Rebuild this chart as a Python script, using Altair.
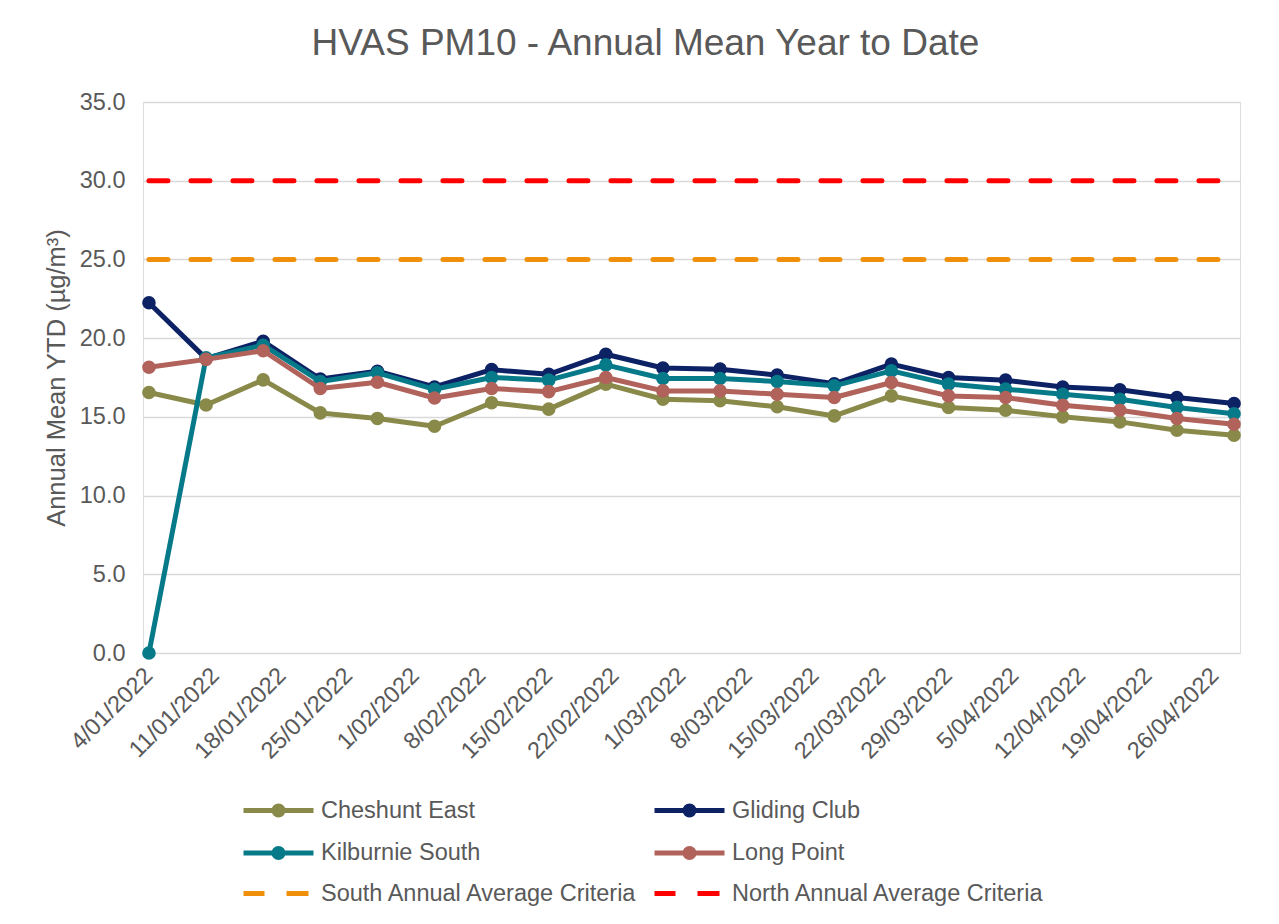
import altair as alt
import pandas as pd

FONT = "Liberation Sans"
TEXT = "#595959"

# sampling dates (one sample every 6 days, 4 Jan to 28 Apr 2022)
dates = [
    "2022-01-04T00:00", "2022-01-10T00:00", "2022-01-16T00:00", "2022-01-22T00:00",
    "2022-01-28T00:00", "2022-02-03T00:00", "2022-02-09T00:00", "2022-02-15T00:00",
    "2022-02-21T00:00", "2022-02-27T00:00", "2022-03-05T00:00", "2022-03-11T00:00",
    "2022-03-17T00:00", "2022-03-23T00:00", "2022-03-29T00:00", "2022-04-04T00:00",
    "2022-04-10T00:00", "2022-04-16T00:00", "2022-04-22T00:00", "2022-04-28T00:00",
]

cheshunt_east = [16.55, 15.75, 17.35, 15.25, 14.9, 14.4, 15.9, 15.49, 17.08, 16.12,
                 16.02, 15.64, 15.06, 16.33, 15.6, 15.42, 15.0, 14.68, 14.15, 13.83]
gliding_club = [22.25, 18.7, 19.8, 17.4, 17.9, 16.9, 18.0, 17.7, 18.98, 18.1,
                18.03, 17.65, 17.1, 18.35, 17.5, 17.33, 16.9, 16.72, 16.23, 15.85]
kilburnie_south = [0.0, 18.75, 19.55, 17.25, 17.8, 16.75, 17.5, 17.33, 18.3, 17.44,
                   17.44, 17.25, 16.97, 17.92, 17.08, 16.76, 16.44, 16.12, 15.6, 15.2]
long_point = [18.15, 18.65, 19.2, 16.8, 17.2, 16.2, 16.8, 16.6, 17.5, 16.65,
              16.65, 16.44, 16.23, 17.18, 16.33, 16.23, 15.74, 15.42, 14.9, 14.53]

south_criteria = 25.0
north_criteria = 30.0

# weekly tick dates (year, month, day)
tick_dates = [(2022, 1, 4), (2022, 1, 11), (2022, 1, 18), (2022, 1, 25), (2022, 2, 1),
              (2022, 2, 8), (2022, 2, 15), (2022, 2, 22), (2022, 3, 1), (2022, 3, 8),
              (2022, 3, 15), (2022, 3, 22), (2022, 3, 29), (2022, 4, 5), (2022, 4, 12),
              (2022, 4, 19), (2022, 4, 26)]
y_ticks = [0, 5, 10, 15, 20, 25, 30, 35]

series_names = ["Cheshunt East", "Gliding Club", "Kilburnie South", "Long Point",
                "South Annual Average Criteria", "North Annual Average Criteria"]
series_colors = ["#898A4A", "#0C2265", "#077A89", "#B0625B", "#F0900A", "#FF0000"]

# legend glyphs (style only)
GLYPH_SERIES = "M-3.5,0H3.5M-0.45,0A0.45,0.45,0,1,0,0.45,0A0.45,0.45,0,1,0,-0.45,0Z"
GLYPH_DASH = "M-3.5,0H-1.4M0.8,0H3.0"
series_glyphs = [GLYPH_SERIES] * 4 + [GLYPH_DASH] * 2

# legend is filled column by column: reorder so that it reads row by row
legend_idx = [0, 2, 4, 1, 3, 5]
legend_names = [series_names[i] for i in legend_idx]
legend_colors = [series_colors[i] for i in legend_idx]
legend_glyphs = [series_glyphs[i] for i in legend_idx]

rows = []
for name, vals in zip(series_names[:4], [cheshunt_east, gliding_club, kilburnie_south, long_point]):
    for d, v in zip(dates, vals):
        rows.append({"date": d, "value": v, "series": name})
for name, v in [(series_names[4], south_criteria), (series_names[5], north_criteria)]:
    for d in (dates[0], dates[-1]):
        rows.append({"date": d, "value": v, "series": name})
df = pd.DataFrame(rows)

x_enc = alt.X(
    "date:T",
    title=None,
    scale=alt.Scale(domain=[alt.DateTime(year=2022, month=1, date=3, hours=9),
                            alt.DateTime(year=2022, month=4, date=28, hours=15)]),
    axis=alt.Axis(
        values=[alt.DateTime(year=y, month=m, date=d) for (y, m, d) in tick_dates],
        format="%-d/%m/%Y", labelAngle=-45, labelAlign="right", labelBaseline="top",
        labelFontSize=23.5, labelFont=FONT, labelColor=TEXT, labelPadding=10, labelOffset=-9,
        grid=False, domain=False, ticks=False, labelOverlap=False, labelFlush=False,
    ),
)
y_enc = alt.Y(
    "value:Q",
    title="Annual Mean YTD (µg/m³)",
    scale=alt.Scale(domain=[0, 35], nice=False, zero=True),
    axis=alt.Axis(
        values=y_ticks, format=".1f", labelFontSize=23.5, labelFont=FONT, labelColor=TEXT,
        labelPadding=18, domain=False, ticks=False, gridColor="#D9D9D9", gridWidth=1.3,
        titleFontSize=25.5, titleFont=FONT, titleColor=TEXT, titleFontWeight="normal",
        titlePadding=10,
    ),
)

base = alt.Chart(df)
layers = []
for name, col in zip(series_names[:4], series_colors[:4]):
    sub = base.transform_filter(alt.datum.series == name)
    layers.append(sub.mark_line(strokeWidth=5, strokeJoin="round", color=col).encode(x=x_enc, y=y_enc))
    layers.append(sub.mark_point(filled=True, size=185, opacity=1, color=col).encode(x=x_enc, y=y_enc))
for name, col in zip(series_names[4:], series_colors[4:]):
    sub = base.transform_filter(alt.datum.series == name)
    layers.append(sub.mark_line(strokeWidth=5, strokeDash=[19, 23], strokeCap="round", color=col)
                  .encode(x=x_enc, y=y_enc))

leg = alt.Legend(
    title=None, orient="none", legendX=123, legendY=696, columns=2,
    symbolSize=400, symbolStrokeWidth=5, symbolOpacity=1,
    labelFontSize=23.5, labelFont=FONT, labelColor=TEXT, labelOffset=30,
    rowPadding=13.5, columnPadding=5, padding=0, labelLimit=500,
)
legend_layer = base.mark_point(filled=True, opacity=0, strokeWidth=5).encode(
    x=x_enc, y=y_enc,
    fill=alt.Fill("series:N", scale=alt.Scale(domain=legend_names, range=legend_colors), legend=leg),
    stroke=alt.Stroke("series:N", scale=alt.Scale(domain=legend_names, range=legend_colors), legend=leg),
    shape=alt.Shape("series:N", scale=alt.Scale(domain=legend_names, range=legend_glyphs), legend=leg),
)
layers.append(legend_layer)

chart = alt.layer(*layers).properties(
    width=1097,
    height=551,
    title=alt.TitleParams(
        "HVAS PM10 - Annual Mean Year to Date", fontSize=37, font=FONT, color=TEXT,
        fontWeight="normal", anchor="middle", frame="group", dx=-46, dy=45, offset=43,
        baseline="alphabetic",
    ),
    autosize=alt.AutoSizeParams(type="none"),
    padding={"left": 135, "top": 94, "right": 31, "bottom": 262},
).configure_view(stroke=None).configure(background="white")

chart.save("out.html", embed_options={"renderer": "svg", "actions": False})
